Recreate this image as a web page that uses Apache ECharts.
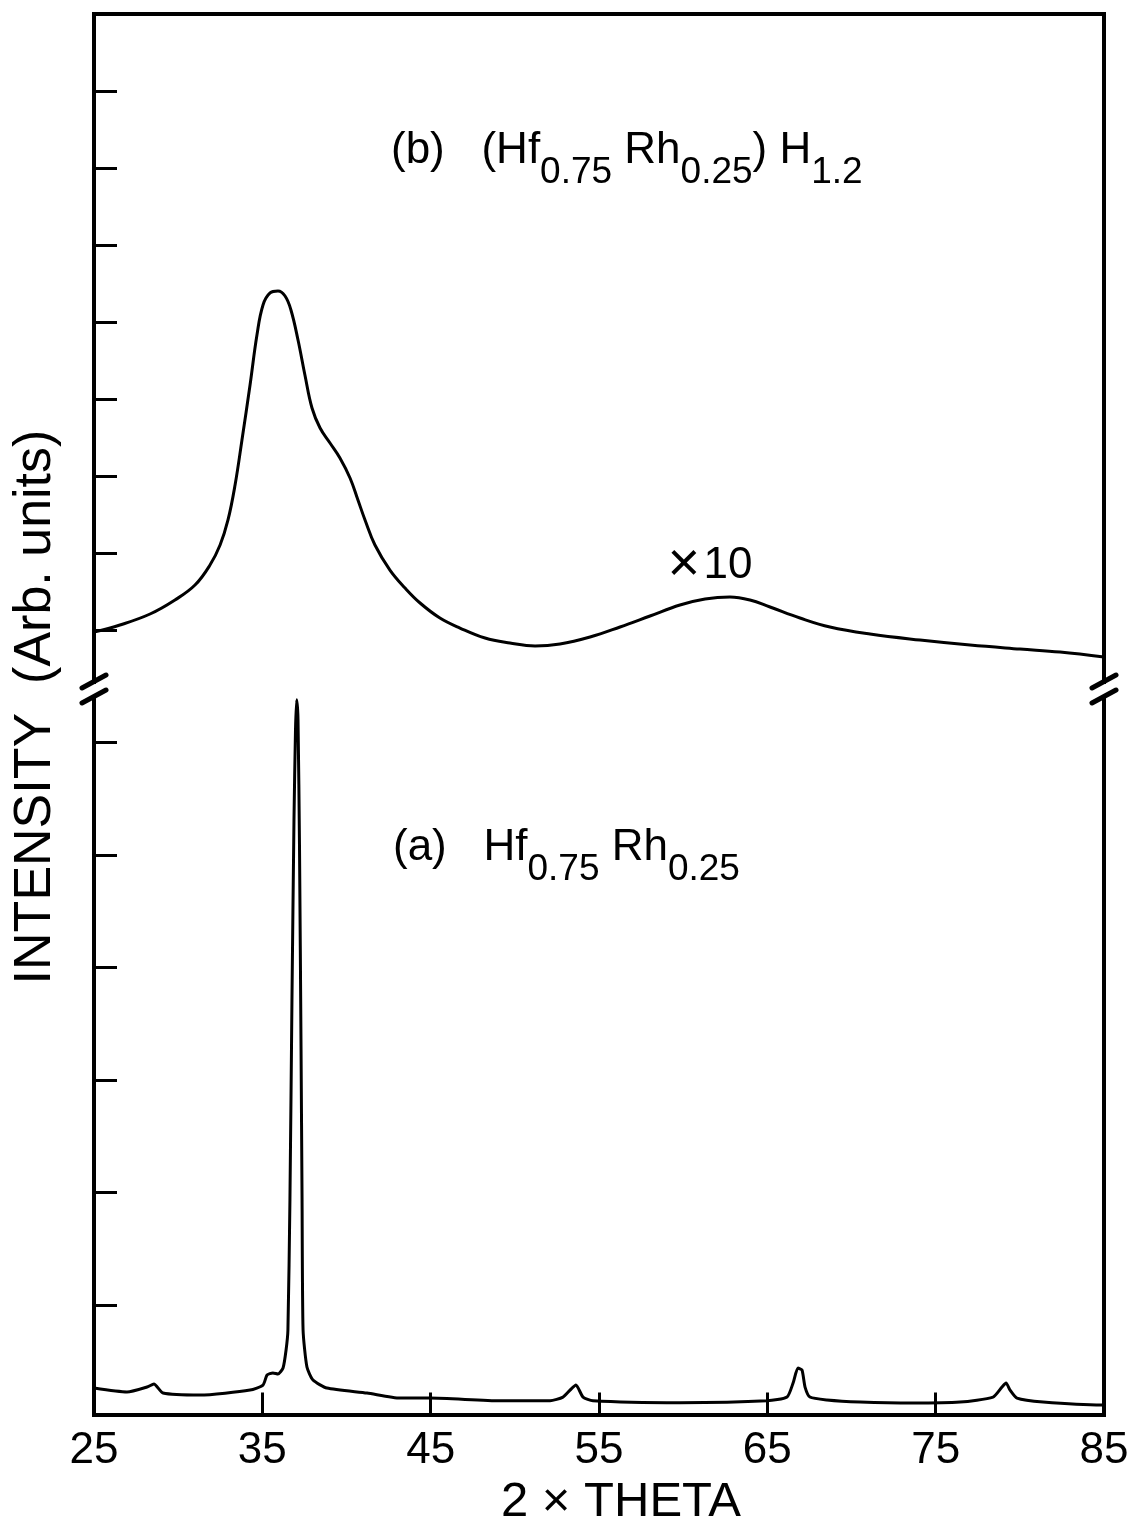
<!DOCTYPE html>
<html>
<head>
<meta charset="utf-8">
<script src="https://cdn.jsdelivr.net/npm/echarts@6/dist/echarts.min.js"></script>
<style>
  html, body { margin: 0; padding: 0; background: #fff; }
  #chart { width: 1135px; height: 1526px; }
</style>
</head>
<body>
<div id="chart"></div>
<script>
// 2θ axis labels (degrees)
const thetaLabels = [25, 35, 45, 55, 65, 75, 85];
// intensity tick positions (arbitrary units) for the two panels
const upperTicks = [1, 2, 3, 4, 5, 6, 7, 8];
const lowerTicks = [1, 2, 3, 4, 5, 6];

// (b) (Hf0.75Rh0.25)H1.2 — hydride pattern
const hydrideTheta = [25.00, 26.54, 28.33, 29.81, 31.00, 31.89, 32.49, 32.96, 33.38, 33.79,
  34.27, 34.68, 35.04, 35.46, 35.93, 36.35, 36.70, 37.12, 37.53, 37.95,
  38.43, 39.02, 39.61, 40.21, 40.68, 41.10, 41.69, 42.58, 43.48, 44.37,
  45.55, 46.74, 48.23, 49.71, 51.20, 52.68, 54.47, 56.25, 58.03, 59.81,
  61.30, 62.78, 63.97, 65.16, 66.94, 68.72, 71.10, 74.07, 77.04, 80.01,
  82.39, 85.00];
const hydrideIntensity = [0.974, 1.065, 1.208, 1.390, 1.584, 1.844, 2.104, 2.429, 2.883, 3.468,
  4.182, 4.831, 5.221, 5.377, 5.403, 5.338, 5.156, 4.766, 4.312, 3.883,
  3.623, 3.429, 3.234, 2.974, 2.688, 2.429, 2.104, 1.779, 1.545, 1.351,
  1.156, 1.026, 0.896, 0.831, 0.792, 0.818, 0.909, 1.039, 1.182, 1.325,
  1.403, 1.429, 1.390, 1.299, 1.156, 1.039, 0.948, 0.870, 0.805, 0.753,
  0.714, 0.649];

// (a) Hf0.75Rh0.25 — alloy pattern
const alloyTheta = [25.00, 26.96, 28.15, 28.56, 29.10, 31.30, 34.27, 35.04, 35.28, 35.63,
  35.93, 36.23, 36.41, 36.52, 36.64, 36.76, 36.88, 36.97, 37.04, 37.12,
  37.21, 37.30, 37.36, 37.42, 37.65, 38.01, 38.84, 41.22, 43.18, 44.96,
  49.12, 52.09, 52.86, 53.28, 53.63, 54.05, 54.64, 59.81, 64.98, 66.17,
  66.53, 66.82, 67.06, 67.24, 67.53, 68.54, 70.51, 73.65, 76.45, 78.41,
  78.94, 79.18, 79.42, 79.83, 81.38, 84.88, 85.00];
const alloyIntensity = [0.262, 0.227, 0.271, 0.298, 0.218, 0.200, 0.244, 0.289, 0.378, 0.396,
  0.387, 0.440, 0.600, 0.778, 1.933, 3.711, 5.311, 6.111, 6.380, 6.200,
  5.044, 3.267, 1.933, 0.778, 0.449, 0.333, 0.262, 0.218, 0.173, 0.173,
  0.149, 0.149, 0.182, 0.244, 0.289, 0.182, 0.149, 0.132, 0.149, 0.182,
  0.307, 0.440, 0.422, 0.271, 0.182, 0.156, 0.138, 0.129, 0.138, 0.182,
  0.271, 0.307, 0.244, 0.173, 0.138, 0.111, 0.111];

const FONT = 'Liberation Sans';
const INK = '#000';

// panel geometry
const LEFT = 94, RIGHT_EDGE = 1104;
const UPPER_TOP = 14, UPPER_BOTTOM = 682;
const LOWER_TOP = 697, LOWER_BOTTOM = 1414.5;

const pairs = (xs, ys) => xs.map((x, i) => [x, ys[i]]);

const frameLine = { show: true, lineStyle: { color: INK, width: 4, cap: 'square' } };
const noAxisDecor = { axisTick: { show: false }, axisLabel: { show: false }, splitLine: { show: false } };

// chemical formula styles: main text and lowered subscripts
const formulaRich = {
  m: { fontFamily: FONT, fontSize: 44, lineHeight: 63, verticalAlign: 'top', fill: INK },
  s: { fontFamily: FONT, fontSize: 37, lineHeight: 37, verticalAlign: 'bottom', fill: INK }
};

const chart = echarts.init(document.getElementById('chart'), null, { renderer: 'canvas' });

// break marks on both vertical frame lines
function breakMarks(cx) {
  const mk = (y) => ({
    type: 'line',
    shape: { x1: cx - 12, y1: y + 7, x2: cx + 12, y2: y - 6 },
    style: { stroke: INK, lineWidth: 5, lineCap: 'round' }
  });
  return [mk(681), mk(696)];
}

chart.setOption({
  animation: false,
  backgroundColor: '#fff',
  grid: [
    { left: LEFT, right: 1135 - RIGHT_EDGE, top: UPPER_TOP, height: UPPER_BOTTOM - UPPER_TOP },
    { left: LEFT, right: 1135 - RIGHT_EDGE, top: LOWER_TOP, height: LOWER_BOTTOM - LOWER_TOP }
  ],
  xAxis: [
    Object.assign({ gridIndex: 0, type: 'value', position: 'top', min: 25, max: 85,
      axisLine: frameLine }, noAxisDecor),
    {
      gridIndex: 1, type: 'value', position: 'bottom', min: 25, max: 85, interval: 10,
      axisLine: frameLine,
      axisTick: { show: true, inside: true, length: 22, lineStyle: { color: INK, width: 3 } },
      axisLabel: {
        show: true, customValues: thetaLabels, margin: 14,
        fontFamily: FONT, fontSize: 44, color: INK
      },
      splitLine: { show: false }
    }
  ],
  yAxis: [
    {
      gridIndex: 0, type: 'value', position: 'left', min: 0.325, max: 9,
      axisLine: frameLine,
      axisTick: { show: true, inside: true, length: 23, customValues: upperTicks,
        lineStyle: { color: INK, width: 3 } },
      axisLabel: { show: false }, splitLine: { show: false }
    },
    Object.assign({ gridIndex: 0, type: 'value', position: 'right', min: 0.325, max: 9,
      axisLine: frameLine }, noAxisDecor),
    {
      gridIndex: 1, type: 'value', position: 'left', min: 0.027, max: 6.405,
      axisLine: frameLine,
      axisTick: { show: true, inside: true, length: 23, customValues: lowerTicks,
        lineStyle: { color: INK, width: 3 } },
      axisLabel: { show: false }, splitLine: { show: false }
    },
    Object.assign({ gridIndex: 1, type: 'value', position: 'right', min: 0.027, max: 6.405,
      axisLine: frameLine }, noAxisDecor)
  ],
  series: [
    {
      name: '(Hf0.75Rh0.25)H1.2', type: 'line', xAxisIndex: 0, yAxisIndex: 0,
      data: pairs(hydrideTheta, hydrideIntensity),
      showSymbol: false, smooth: 0.4,
      lineStyle: { color: INK, width: 3 }, silent: true
    },
    {
      name: 'Hf0.75Rh0.25', type: 'line', xAxisIndex: 1, yAxisIndex: 2,
      data: pairs(alloyTheta, alloyIntensity),
      showSymbol: false, smooth: 0.2,
      lineStyle: { color: INK, width: 3 }, silent: true
    }
  ],
  graphic: [
    ...breakMarks(LEFT),
    ...breakMarks(RIGHT_EDGE),
    {
      type: 'text', x: 36, y: 707, rotation: Math.PI / 2,
      style: { text: 'INTENSITY  (Arb. units)', fontFamily: FONT, fontSize: 52, fill: INK,
        align: 'center', verticalAlign: 'middle' }
    },
    {
      type: 'text', x: 621, y: 1502,
      style: { text: '2 × THETA', fontFamily: FONT, fontSize: 49, fill: INK,
        align: 'center', verticalAlign: 'middle' }
    },
    {
      type: 'text', x: 710, y: 566,
      style: {
        text: '{x|×} {n|10}', fill: INK, align: 'center', verticalAlign: 'middle',
        rich: {
          x: { fontFamily: FONT, fontSize: 56, fill: INK },
          n: { fontFamily: FONT, fontSize: 44, fill: INK }
        }
      }
    },
    {
      type: 'text', x: 391, y: 160,
      style: {
        text: '{m|(b)   (Hf}{s|0.75}{m| Rh}{s|0.25}{m|) H}{s|1.2}',
        fill: INK, verticalAlign: 'middle', align: 'left', rich: formulaRich
      }
    },
    {
      type: 'text', x: 393, y: 857,
      style: {
        text: '{m|(a)   Hf}{s|0.75}{m| Rh}{s|0.25}',
        fill: INK, verticalAlign: 'middle', align: 'left', rich: formulaRich
      }
    }
  ]
});
</script>
</body>
</html>
